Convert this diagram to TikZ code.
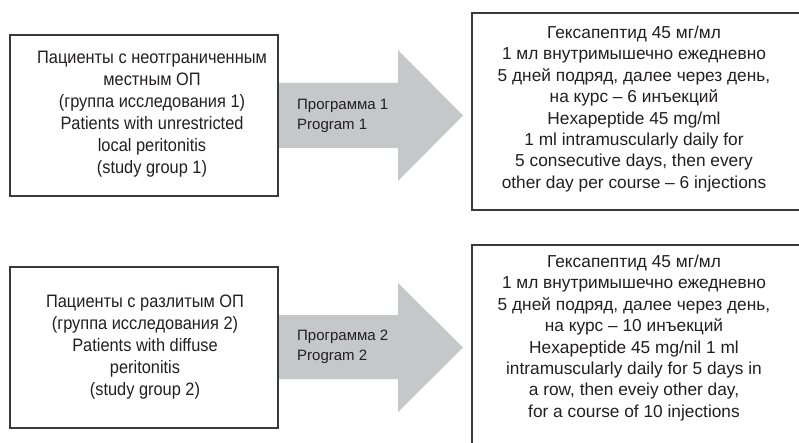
\documentclass[tikz,border=0pt]{standalone}
\usepackage{fontspec}
\setmainfont{Liberation Sans}
\newfontfamily\narrowfont[FakeStretch=0.91]{Liberation Sans}
\begin{document}
\begin{tikzpicture}[x=1pt,y=-1pt,
  box/.style={draw=boxline,line width=1.1pt,fill=white,inner sep=0pt},
  txt/.style={text=ink,align=center,inner sep=0pt,font=\fontsize{17.3}{21.4}\selectfont},
  ltxt/.style={text=ink,align=center,inner sep=0pt,font=\narrowfont\fontsize{18}{22}\selectfont},
  lbl/.style={text=ink,align=left,inner sep=0pt,anchor=west,font=\fontsize{15}{20}\selectfont}]
\definecolor{boxline}{HTML}{3A3A3A}
\definecolor{ink}{HTML}{231F20}
\definecolor{arrowgray}{HTML}{C6C7C9}
\useasboundingbox (0,0) rectangle (799,443);
\clip (0,0) rectangle (799,443);
% arrows
\coordinate (t1) at (463,115.5);
\coordinate (t2) at (463,347.5);
\fill[arrowgray] (278,83) -- (398,83) -- (398,50) -- (t1) -- (398,181) -- (398,148) -- (278,148) -- cycle;
\fill[arrowgray] (278,315) -- (398,315) -- (398,283) -- (t2) -- (398,412) -- (398,379) -- (278,379) -- cycle;
% left boxes
\node[box,minimum width=268pt,minimum height=161pt] (A1) at (144,115.5) {};
\node[ltxt] (A1t) at (152,114) {Пациенты с неотграниченным\\местным ОП\\(группа исследования 1)\\Patients with unrestricted\\local peritonitis\\(study group 1)};
\node[box,minimum width=268pt,minimum height=161pt] (A2) at (144,347.5) {};
\node[ltxt] (A2t) at (145,347.5) {Пациенты с разлитым ОП\\(группа исследования 2)\\Patients with diffuse\\peritonitis\\(study group 2)};
% labels
\node[lbl] (L1) at (297,116) {Программа 1\\Program 1};
\node[lbl] (L2) at (297,347) {Программа 2\\Program 2};
% right boxes
\node[box,minimum width=330pt,minimum height=197pt] (B1) at (637,111.5) {};
\node[txt] (B1t) at (634,109) {Гексапептид 45 мг/мл\\1 мл внутримышечно ежедневно\\5 дней подряд, далее через день,\\на курс – 6 инъекций\\Hexapeptide 45 mg/ml\\1 ml intramuscularly daily for\\5 consecutive days, then every\\other day per course – 6 injections};
\node[box,minimum width=330pt,minimum height=204pt] (B2) at (637,347) {};
\node[txt] (B2t) at (634,338) {Гексапептид 45 мг/мл\\1 мл внутримышечно ежедневно\\5 дней подряд, далее через день,\\на курс – 10 инъекций\\Hexapeptide 45 mg/nil 1 ml\\intramuscularly daily for 5 days in\\a row, then eveiy other day,\\for a course of 10 injections};
\end{tikzpicture}
\end{document}
